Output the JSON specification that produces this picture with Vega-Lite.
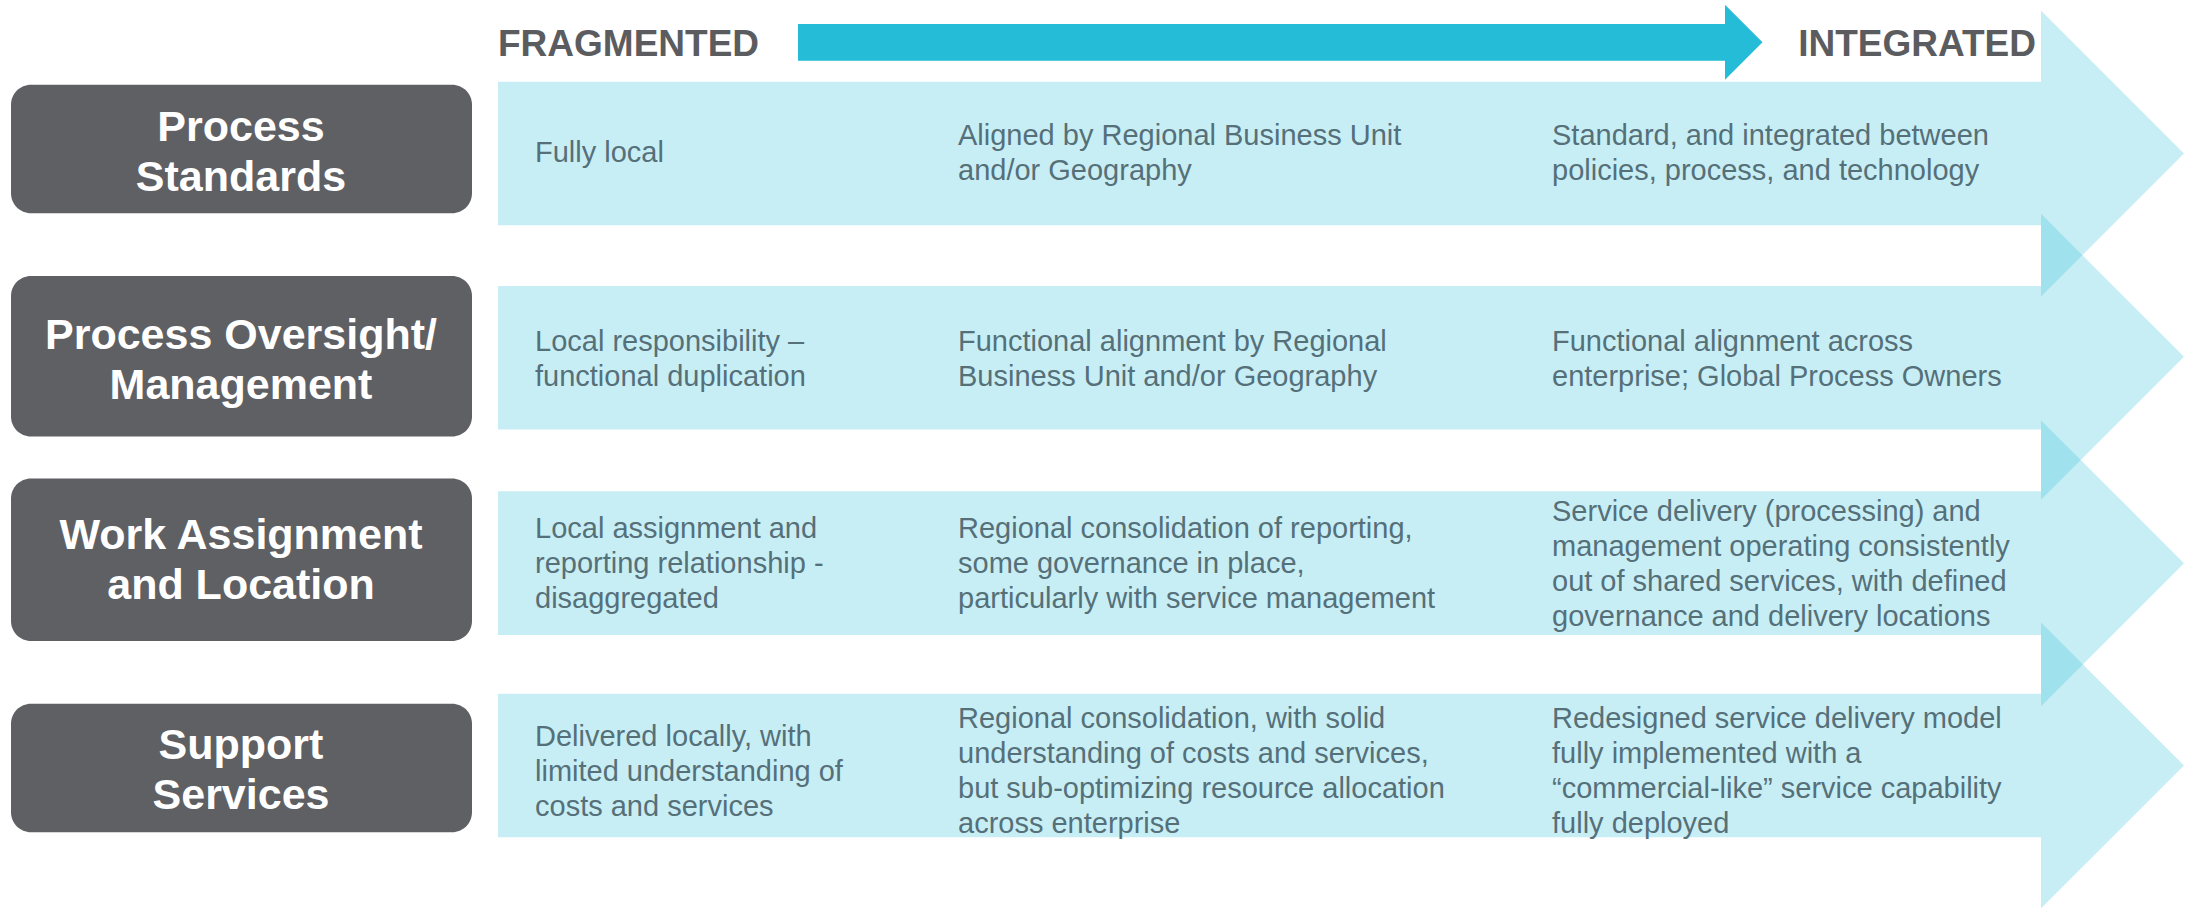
{
  "$schema": "https://vega.github.io/schema/vega-lite/v6.json",
  "width": 2190,
  "height": 908,
  "autosize": {"type": "fit", "contains": "padding"},
  "padding": 0,
  "background": "#ffffff",
  "config": {"view": {"stroke": null}},
  "datasets": {
    "bands": [
      {"row": 1, "x": 498, "x2": 2041, "y": 82, "y2": 226, "c": 154},
      {"row": 2, "x": 498, "x2": 2041, "y": 287, "y2": 431, "c": 358},
      {"row": 3, "x": 498, "x2": 2041, "y": 493, "y2": 637, "c": 565},
      {"row": 4, "x": 498, "x2": 2041, "y": 696, "y2": 840, "c": 768}
    ],
    "topArrow": [
      {"x": 798, "x2": 1725, "y": 24, "y2": 61, "c": 42.5}
    ],
    "boxes": [
      {"label": "Process\nStandards", "x": 11, "x2": 472, "y": 85, "y2": 214, "cx": 241, "ty": 128},
      {"label": "Process Oversight/\nManagement", "x": 11, "x2": 472, "y": 277, "y2": 438, "cx": 241, "ty": 337},
      {"label": "Work Assignment\nand Location", "x": 11, "x2": 472, "y": 480, "y2": 643, "cx": 241, "ty": 538},
      {"label": "Support\nServices", "x": 11, "x2": 472, "y": 706, "y2": 835, "cx": 241, "ty": 748}
    ],
    "cells": [
      {"x": 535, "y": 154, "t": "Fully local"},
      {"x": 958, "y": 136.5, "t": "Aligned by Regional Business Unit\nand/or Geography"},
      {"x": 1552, "y": 136.5, "t": "Standard, and integrated between\npolicies, process, and technology"},
      {"x": 535, "y": 343.5, "t": "Local responsibility –\nfunctional duplication"},
      {"x": 958, "y": 343.5, "t": "Functional alignment by Regional\nBusiness Unit and/or Geography"},
      {"x": 1552, "y": 343.5, "t": "Functional alignment across\nenterprise; Global Process Owners"},
      {"x": 535, "y": 531, "t": "Local assignment and\nreporting relationship -\ndisaggregated"},
      {"x": 958, "y": 531, "t": "Regional consolidation of reporting,\nsome governance in place,\nparticularly with service management"},
      {"x": 1552, "y": 513.5, "t": "Service delivery (processing) and\nmanagement operating consistently\nout of shared services, with defined\ngovernance and delivery locations"},
      {"x": 535, "y": 739, "t": "Delivered locally, with\nlimited understanding of\ncosts and services"},
      {"x": 958, "y": 721.5, "t": "Regional consolidation, with solid\nunderstanding of costs and services,\nbut sub-optimizing resource allocation\nacross enterprise"},
      {"x": 1552, "y": 721.5, "t": "Redesigned service delivery model\nfully implemented with a\n“commercial-like” service capability\nfully deployed"}
    ],
    "headers": [
      {"x": 498, "y": 56, "t": "FRAGMENTED", "side": "left"},
      {"x": 2036, "y": 56, "t": "INTEGRATED", "side": "right"}
    ]
  },
  "layer": [
    {
      "data": {"name": "bands"},
      "mark": {"type": "rect", "color": "#24bcd6", "fillOpacity": 0.25, "strokeWidth": 0},
      "encoding": {
        "x": {"field": "x", "type": "quantitative", "scale": {"domain": [0, 2190], "nice": false, "zero": false}, "axis": null},
        "x2": {"field": "x2"},
        "y": {"field": "y", "type": "quantitative", "scale": {"domain": [0, 908], "nice": false, "zero": false, "reverse": true}, "axis": null},
        "y2": {"field": "y2"}
      }
    },
    {
      "data": {"name": "bands"},
      "mark": {"type": "point", "shape": "M0,-1L1,0L0,1Z", "size": 81796, "filled": true, "color": "#24bcd6", "fillOpacity": 0.25, "strokeWidth": 0, "opacity": 1},
      "encoding": {
        "x": {"field": "x2", "type": "quantitative", "axis": null},
        "y": {"field": "c", "type": "quantitative", "axis": null}
      }
    },
    {
      "data": {"name": "topArrow"},
      "mark": {"type": "rect", "color": "#24bcd6", "strokeWidth": 0},
      "encoding": {
        "x": {"field": "x", "type": "quantitative", "axis": null},
        "x2": {"field": "x2"},
        "y": {"field": "y", "type": "quantitative", "axis": null},
        "y2": {"field": "y2"}
      }
    },
    {
      "data": {"name": "topArrow"},
      "mark": {"type": "point", "shape": "M0,-1L1,0L0,1Z", "size": 5625, "filled": true, "color": "#24bcd6", "strokeWidth": 0, "opacity": 1},
      "encoding": {
        "x": {"field": "x2", "type": "quantitative", "axis": null},
        "y": {"field": "c", "type": "quantitative", "axis": null}
      }
    },
    {
      "data": {"name": "boxes"},
      "mark": {"type": "rect", "cornerRadius": 20, "color": "#5f6064"},
      "encoding": {
        "x": {"field": "x", "type": "quantitative", "axis": null},
        "x2": {"field": "x2"},
        "y": {"field": "y", "type": "quantitative", "axis": null},
        "y2": {"field": "y2"}
      }
    },
    {
      "data": {"name": "boxes"},
      "mark": {"type": "text", "align": "center", "baseline": "middle", "font": "Liberation Sans", "fontWeight": "bold", "fontSize": 43, "lineHeight": 50, "lineBreak": "\n", "color": "#ffffff"},
      "encoding": {
        "x": {"field": "cx", "type": "quantitative", "axis": null},
        "y": {"field": "ty", "type": "quantitative", "axis": null},
        "text": {"field": "label"}
      }
    },
    {
      "data": {"name": "cells"},
      "mark": {"type": "text", "align": "left", "baseline": "middle", "font": "Liberation Sans", "fontSize": 29, "lineHeight": 35, "lineBreak": "\n", "color": "#557079"},
      "encoding": {
        "x": {"field": "x", "type": "quantitative", "axis": null},
        "y": {"field": "y", "type": "quantitative", "axis": null},
        "text": {"field": "t"}
      }
    },
    {
      "data": {"name": "headers"},
      "transform": [{"filter": "datum.side == 'left'"}],
      "mark": {"type": "text", "align": "left", "baseline": "alphabetic", "font": "Liberation Sans", "fontWeight": "bold", "fontSize": 37, "color": "#5b5c60"},
      "encoding": {
        "x": {"field": "x", "type": "quantitative", "axis": null},
        "y": {"field": "y", "type": "quantitative", "axis": null},
        "text": {"field": "t"}
      }
    },
    {
      "data": {"name": "headers"},
      "transform": [{"filter": "datum.side == 'right'"}],
      "mark": {"type": "text", "align": "right", "baseline": "alphabetic", "font": "Liberation Sans", "fontWeight": "bold", "fontSize": 37, "color": "#5b5c60"},
      "encoding": {
        "x": {"field": "x", "type": "quantitative", "axis": null},
        "y": {"field": "y", "type": "quantitative", "axis": null},
        "text": {"field": "t"}
      }
    }
  ]
}
